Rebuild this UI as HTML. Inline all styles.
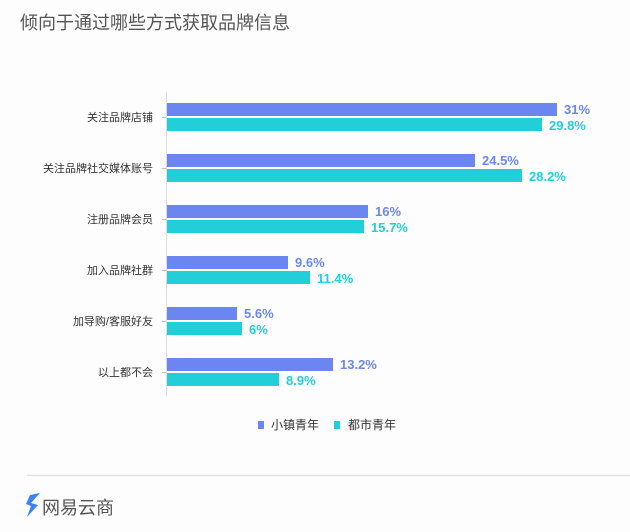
<!DOCTYPE html>
<html><head><meta charset="utf-8"><style>
body{margin:0;background:#fdfdfd;}
svg text{font-family:"Liberation Sans","Noto Sans CJK SC",sans-serif;}
</style></head><body>
<svg width="630" height="527" xmlns="http://www.w3.org/2000/svg">
<rect width="630" height="527" fill="#fdfdfd"/>
<text x="20" y="29" font-size="18" fill="#555">倾向于通过哪些方式获取品牌信息</text>
<line x1="166.5" y1="92" x2="166.5" y2="396" stroke="#ddd" stroke-width="1"/>
<g font-size="11" fill="#333" text-anchor="end">
<text x="153" y="121">关注品牌店铺</text>
<text x="153" y="172">关注品牌社交媒体账号</text>
<text x="153" y="223">注册品牌会员</text>
<text x="153" y="274">加入品牌社群</text>
<text x="153" y="325">加导购/客服好友</text>
<text x="153" y="376">以上都不会</text>
</g>
<g stroke="#bbb"><line x1="162" y1="117.5" x2="166" y2="117.5"/><line x1="162" y1="168.5" x2="166" y2="168.5"/><line x1="162" y1="219.5" x2="166" y2="219.5"/><line x1="162" y1="270.5" x2="166" y2="270.5"/><line x1="162" y1="321.5" x2="166" y2="321.5"/><line x1="162" y1="372.5" x2="166" y2="372.5"/></g>
<g fill="#6b86f0">
<rect x="167" y="103" width="390" height="13"/>
<rect x="167" y="154" width="308" height="13"/>
<rect x="167" y="205" width="201" height="13"/>
<rect x="167" y="256" width="121" height="13"/>
<rect x="167" y="307" width="70" height="13"/>
<rect x="167" y="358" width="166" height="13"/>
</g>
<g fill="#22cfd9">
<rect x="167" y="118" width="375" height="13"/>
<rect x="167" y="169" width="355" height="13"/>
<rect x="167" y="220" width="197" height="13"/>
<rect x="167" y="271" width="143" height="13"/>
<rect x="167" y="322" width="75" height="13"/>
<rect x="167" y="373" width="112" height="13"/>
</g>
<g font-size="13" font-weight="bold" fill="#6b86f0">
<text x="564" y="114">31%</text>
<text x="482" y="165">24.5%</text>
<text x="375" y="216">16%</text>
<text x="295" y="267">9.6%</text>
<text x="244" y="318">5.6%</text>
<text x="340" y="369">13.2%</text>
</g>
<g font-size="13" font-weight="bold" fill="#22cfd9">
<text x="549" y="130">29.8%</text>
<text x="529" y="181">28.2%</text>
<text x="371" y="232">15.7%</text>
<text x="317" y="283">11.4%</text>
<text x="249" y="334">6%</text>
<text x="286" y="385">8.9%</text>
</g>
<rect x="258" y="421" width="6" height="8" fill="#6b86f0"/>
<text x="271" y="429" font-size="12" fill="#333">小镇青年</text>
<rect x="334" y="421" width="6" height="8" fill="#22cfd9"/>
<text x="348" y="429" font-size="12" fill="#333">都市青年</text>
<line x1="27" y1="475.5" x2="630" y2="475.5" stroke="#e3e3e3" stroke-width="1.5"/>
<path d="M30 495 L40 493 L31 503 L38 505 L27 517 L31 506 L26 504 Z" fill="#3b82f6"/>
<text x="42" y="514" font-size="18" fill="#555">网易云商</text>
</svg>
</body></html>
